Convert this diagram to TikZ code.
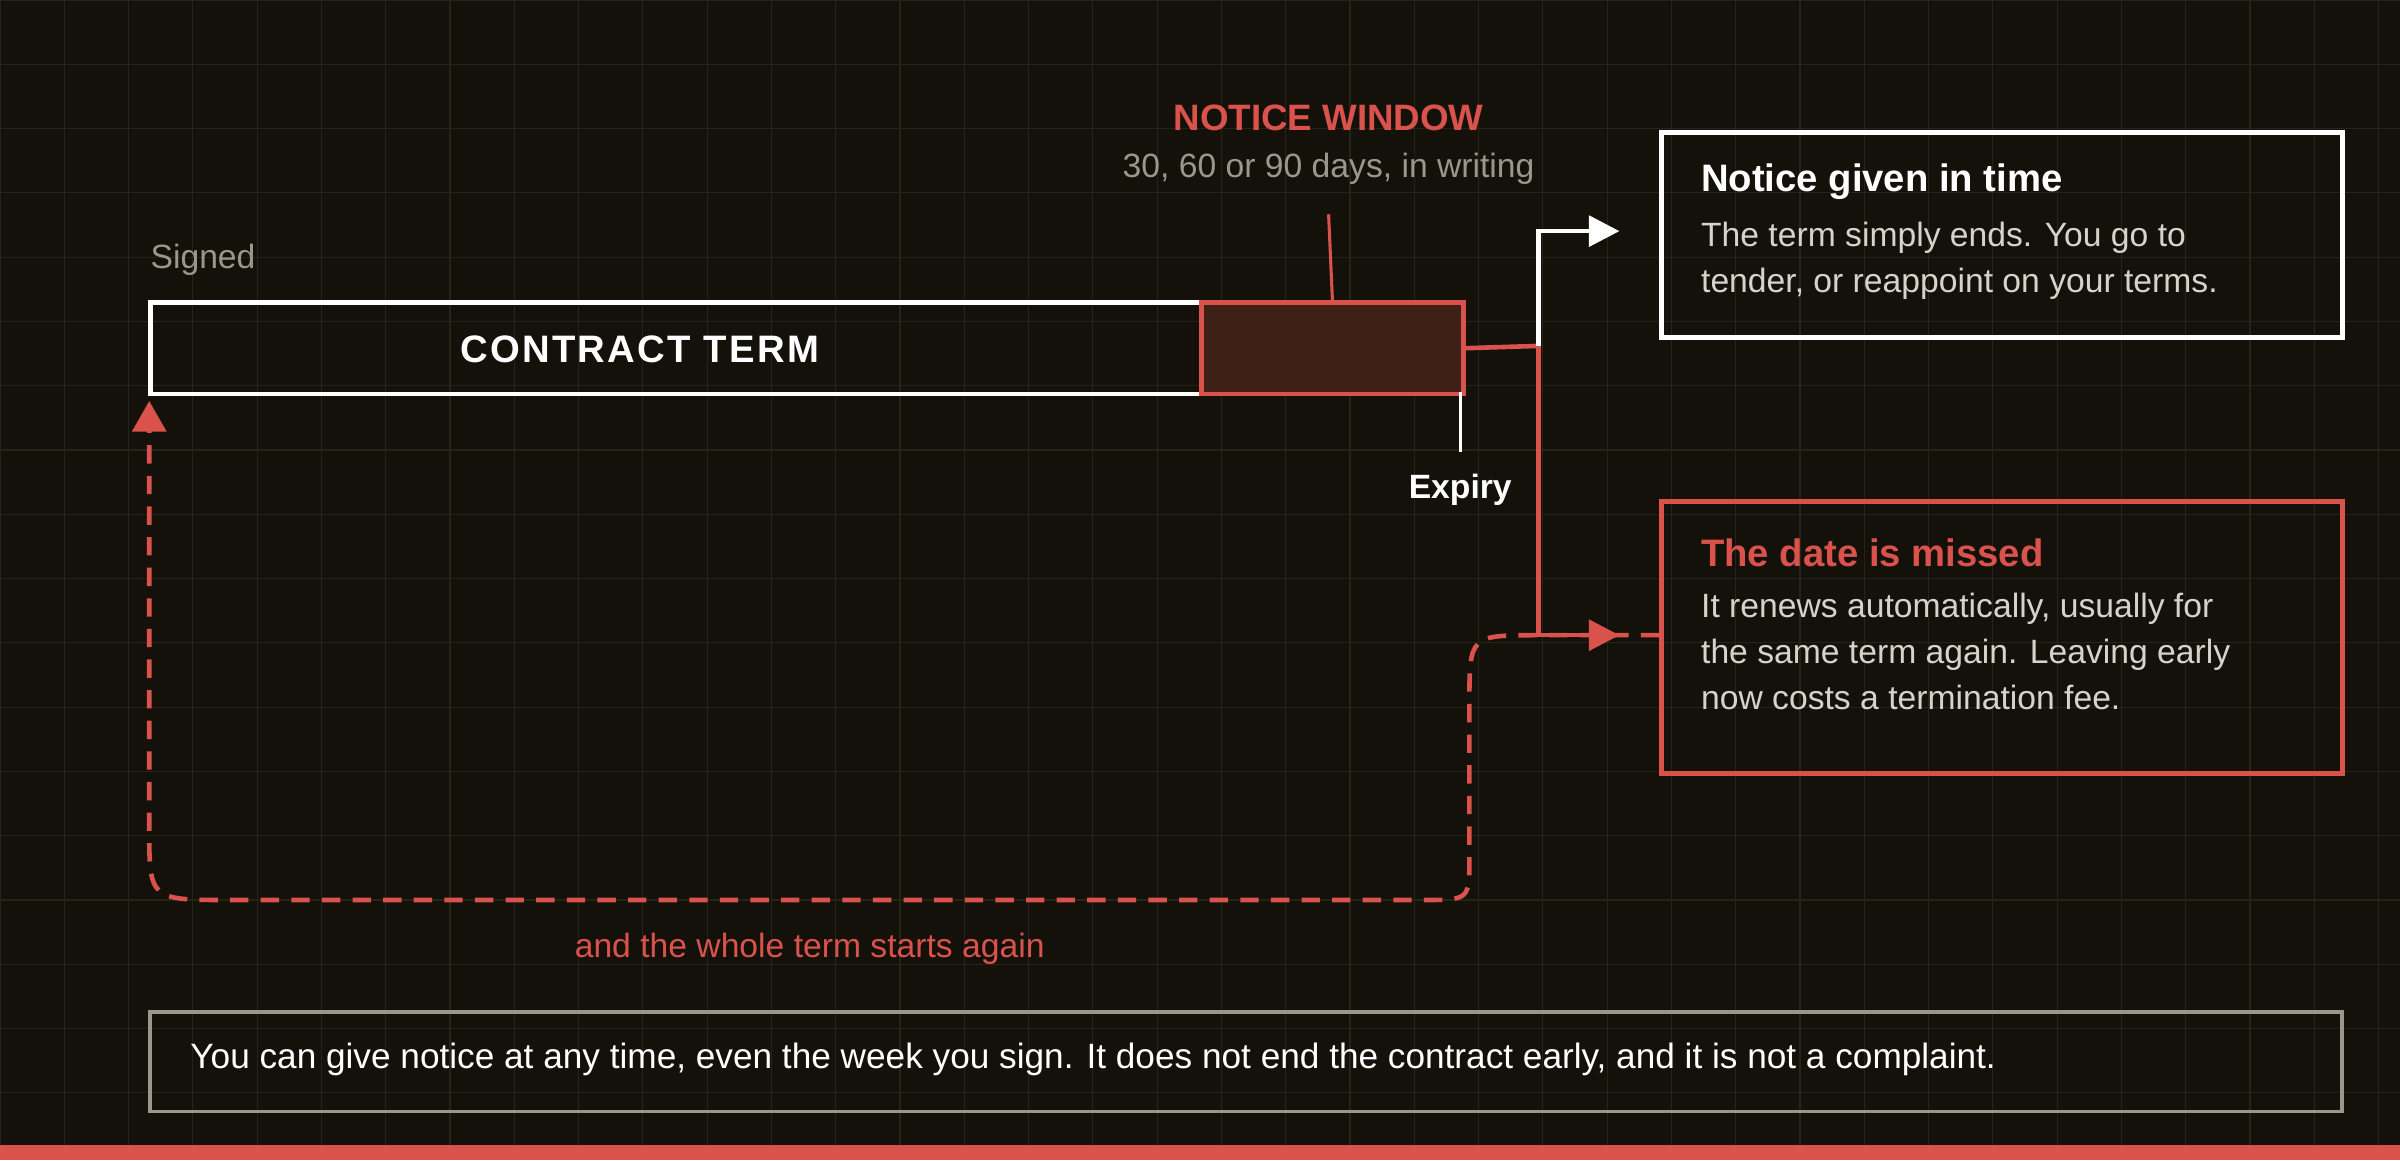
\documentclass[tikz,border=0pt]{standalone}
\usepackage{fontspec}
\setmainfont{Liberation Sans}
\usetikzlibrary{arrows.meta}
\definecolor{bg}{HTML}{14110A}
\definecolor{grid}{HTML}{252418}
\definecolor{red}{HTML}{D9534C}
\definecolor{dred}{HTML}{3F2016}
\definecolor{gry}{HTML}{9A978D}
\definecolor{lgry}{HTML}{D6D3CB}
\begin{document}
\begin{tikzpicture}[x=0.5pt,y=-0.5pt,
  lbl/.style={inner sep=0,font=\fontsize{11}{13}\selectfont},
  ttl/.style={inner sep=0,anchor=west,font=\fontsize{12.5}{15}\selectfont\bfseries},
  body/.style={inner sep=0,anchor=north west,align=left,text=lgry,font=\fontsize{11}{15}\selectfont},
  box/.style={line width=1.5pt}]
\fill[bg] (0,0) rectangle (1568,758);
\useasboundingbox (0,0) rectangle (1568,758);
\foreach \i in {0,42,...,1568} \draw[grid,line width=0.4pt] (\i,0) -- (\i,758);
\foreach \i in {0,42,...,758} \draw[grid,line width=0.4pt] (0,\i) -- (1568,\i);
\fill[red] (0,748) rectangle (1568,758);
% contract bar
\node[draw=white,box,minimum width=429pt,minimum height=30pt,inner sep=0,anchor=north west] (term) at (97,196) {};
\node[text=white,font=\fontsize{12.5}{15}\selectfont\bfseries,inner sep=0] (tlab) at (418,228) {\addfontfeature{LetterSpace=6}CONTRACT TERM};
\node[draw=red,fill=dred,box,minimum width=85.5pt,minimum height=30pt,inner sep=0,anchor=north west] (win) at (783.5,196) {};
\node[lbl,text=gry,anchor=west] (signed) at (98,170) {Signed};
\node[inner sep=0,text=red,font=\fontsize{12}{14}\selectfont\bfseries] (nw) at (868,77) {NOTICE WINDOW};
\node[lbl,text=gry] (nwd) at (868,110) {30, 60 or 90 days, in writing};
\coordinate (nwt) at (868,140);
\draw[red,line width=1pt] (nwt) -- (win.north);
\coordinate (ex1) at (954,256);
\coordinate (ex2) at (954,295);
\draw[white,line width=1pt] (ex1) -- (ex2);
\node[inner sep=0,text=white,font=\fontsize{11}{13}\selectfont\bfseries] (expiry) at (954,320) {Expiry};
% boxes
\node[draw=white,box,minimum width=222.5pt,minimum height=67pt,inner sep=0,anchor=north west] (b1) at (1084,85) {};
\node[ttl,text=white] (b1t) at (1111,119) {Notice given in time};
\node[body] (b1b) at (1111,145) {The term simply ends. You go to\\tender, or reappoint on your terms.};
\node[draw=red,box,minimum width=222.5pt,minimum height=89pt,inner sep=0,anchor=north west] (b2) at (1084,326) {};
\node[ttl,text=red] (b2t) at (1111,361) {The date is missed};
\node[body] (b2b) at (1111,387) {It renews automatically, usually for\\the same term again. Leaving early\\now costs a termination fee.};
% connectors
\coordinate (j) at (1005,226);
\coordinate (a1) at (1058,151);
\coordinate (a2) at (1058,415);
\draw[red,line width=1.5pt] (win.east) -- (j);
\draw[white,line width=1.5pt,-{Triangle[length=10pt,width=10pt]}] (j) |- (a1);
\draw[red,line width=1.5pt,-{Triangle[length=10pt,width=10pt]}] (j) |- (a2);
\coordinate (d0) at (1084,415);
\coordinate (tip) at (97.5,262);
\draw[red,line width=1.5pt,dash pattern=on 6pt off 4pt,-{Triangle[length=10pt,width=11pt]}] (d0) -- (1005,415) .. controls (960,415) .. (960,460) -- (960,560) .. controls (960,588) .. (930,588) -- (150,588) .. controls (97.5,588) .. (97.5,540) -- (tip);
\node[lbl,text=red] (again) at (529,620) {and the whole term starts again};
\node[draw=gry,line width=1.2pt,minimum width=716pt,minimum height=32.5pt,inner sep=0,anchor=north west] (foot) at (97,660) {};
\node[inner sep=0,anchor=west,text=white,font=\fontsize{11.5}{14}\selectfont] (footT) at (124,692) {You can give notice at any time, even the week you sign. It does not end the contract early, and it is not a complaint.};
\end{tikzpicture}
\end{document}
